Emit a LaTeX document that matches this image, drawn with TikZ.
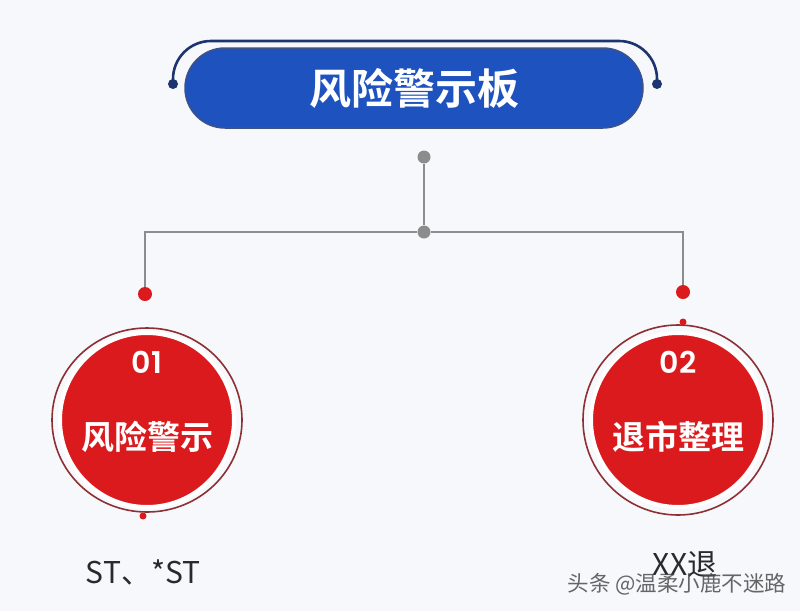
\documentclass[tikz,border=0pt]{standalone}
\usepackage{fontspec}
\setmainfont{Noto Sans CJK SC}[BoldFont={Noto Sans CJK SC Bold}]
\newfontfamily\numfont{Poppins SemiBold}
\usepackage{xcolor}
\definecolor{paper}{HTML}{F6F8FB}
\definecolor{boardblue}{HTML}{1E53BF}
\definecolor{navy}{HTML}{1C3470}
\definecolor{alertred}{HTML}{DB1A1D}
\definecolor{ringred}{HTML}{8E2F33}
\definecolor{wiregray}{HTML}{8C8C8C}
\definecolor{labelgray}{HTML}{2A2A2A}

\begin{document}
\begin{tikzpicture}[x=1pt, y=-1pt, thick,
    board/.style={rectangle, rounded corners=40pt, fill=boardblue, draw=navy!85,
        line width=1.5pt, minimum width=458pt, minimum height=80pt, text=white,
        font=\bfseries\fontsize{42}{42}\selectfont},
    hubdot/.style={circle, fill=wiregray, minimum size=13pt, inner sep=0pt},
    reddot/.style={circle, fill=alertred, minimum size=14pt, inner sep=0pt},
    wire/.style={wiregray, line width=1.2pt},
    bubble/.style={circle, fill=alertred, draw=white, line width=4pt,
        minimum size=174pt, inner sep=0pt},
    ring/.style={ringred, line width=1.6pt},
    numtxt/.style={text=white, font=\numfont\fontsize{30}{30}\selectfont},
    captxt/.style={text=white, font=\bfseries\fontsize{33}{33}\selectfont},
    undertxt/.style={text=labelgray, font=\fontsize{30}{30}\selectfont}]
    \fill[paper] (0,0) rectangle (800,611);
    \useasboundingbox (0,0) rectangle (800,611);

    % title board with its bracket
    \draw[navy, line width=2.6pt, rounded corners=38pt] (173,84) -- (173,41) -- (657,41) -- (657,84);
    \fill[navy] (173,84) circle (5);
    \fill[navy] (657,84) circle (5);
    \node[board] (board) at (414,88) {风险警示板};

    % connectors
    \node[hubdot] (top) at (424,157) {};
    \node[hubdot] (hub) at (424,232) {};
    \node[reddot] (dotL) at (145,294) {};
    \node[reddot] (dotR) at (683,292) {};
    \draw[wire] (top) -- (hub);
    \draw[wire] (hub) -| (dotL);
    \draw[wire] (hub) -| (dotR);

    % the two boards
    \node[bubble] (risk) at (147,420) {};
    \draw[ring] (risk.center) ellipse (95 and 92);
    \fill[alertred] (143,516) circle (3.5);
    \node[numtxt] at (147,362) {01};
    \node[captxt] at (147,437) {风险警示};

    \node[bubble] (delist) at (678,420) {};
    \draw[ring] (delist.center) ellipse (95 and 95);
    \fill[alertred] (683,322) circle (3.5);
    \node[numtxt] at (678,362) {02};
    \node[captxt] at (678,437) {退市整理};

    \node[undertxt] (stnote) at (143,572) {ST、*ST};
    \node[undertxt] (xxnote) at (685,564) {XX退};
    \node[text=black!70, opacity=0.85, font=\fontsize{21.5}{21.5}\selectfont] (mark) at (677,584) {头条 @温柔小鹿不迷路};
\end{tikzpicture}
\end{document}
